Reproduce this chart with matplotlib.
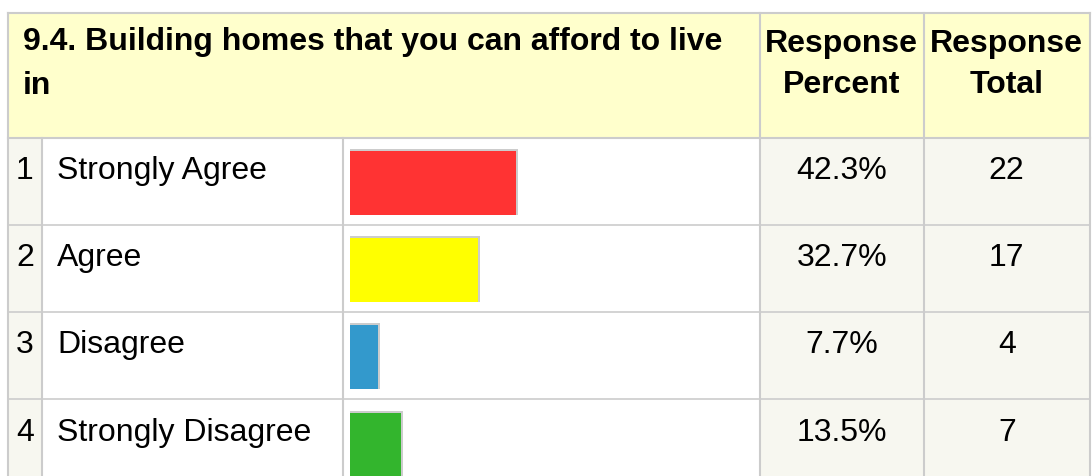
import matplotlib
matplotlib.use("Agg")
import matplotlib.pyplot as plt
from matplotlib.patches import Rectangle

# ---- data ----
title = "9.4. Building homes that you can afford to live\nin"
col_headers = ["Response\nPercent", "Response\nTotal"]
numbers = ["1", "2", "3", "4"]
categories = ["Strongly Agree", "Agree", "Disagree", "Strongly Disagree"]
percents = [42.3, 32.7, 7.7, 13.5]
totals = [22, 17, 4, 7]
bar_colors = ["#FF3333", "#FFFF00", "#3399CC", "#33B52D"]

# ---- layout (pixels) ----
W, H = 1092, 477
plt.rcParams["font.family"] = ["Liberation Sans", "DejaVu Sans"]
fig = plt.figure(figsize=(W / 100, H / 100), dpi=100)
ax = fig.add_axes([0, 0, 1, 1])
ax.set_xlim(0, W)
ax.set_ylim(H, 0)
ax.axis("off")

grid = "#CCCCCC"
header_bg = "#FFFFCC"
cell_bg = "#F7F7F0"
X0, X_NUM, X_LAB, X_PCT, X_TOT, X1 = 8, 42, 343, 759.5, 924, 1089.5
Y0, Y_HEAD = 14, 138.5
row_h = 87.2
row_tops = [Y_HEAD + i * row_h for i in range(len(categories))]
fs = 23

# header background
ax.add_patch(Rectangle((X0, Y0), X1 - X0, Y_HEAD - Y0, facecolor=header_bg, edgecolor="none", zorder=0))
# data cell backgrounds
ax.add_patch(Rectangle((X0, Y_HEAD), X_NUM - X0, H - Y_HEAD, facecolor=cell_bg, edgecolor="none", zorder=0))
ax.add_patch(Rectangle((X_PCT, Y_HEAD), X1 - X_PCT, H - Y_HEAD, facecolor=cell_bg, edgecolor="none", zorder=0))

lw = 1.5
# outer/column lines
ax.plot([X0, X1], [Y0, Y0], color=grid, lw=lw, zorder=1)
ax.plot([X0, X1], [Y_HEAD, Y_HEAD], color=grid, lw=lw, zorder=1)
for x in (X0, X_PCT, X_TOT, X1):
    ax.plot([x, x], [Y0, H], color=grid, lw=lw, zorder=1)
for x in (X_NUM, X_LAB):
    ax.plot([x, x], [Y_HEAD, H], color=grid, lw=lw, zorder=1)
for yt in row_tops[1:]:
    ax.plot([X0, X1], [yt, yt], color=grid, lw=1.2, zorder=1)

# header text
lines = title.split("\n")
ax.text(23, 50, lines[0], fontsize=fs, fontweight="bold", ha="left", va="baseline")
ax.text(23, 94, lines[1], fontsize=fs, fontweight="bold", ha="left", va="baseline")
for xc, hdr in zip([(X_PCT + X_TOT) / 2, (X_TOT + X1) / 2], col_headers):
    a, b = hdr.split("\n")
    ax.text(xc, 52, a, fontsize=fs, fontweight="bold", ha="center", va="baseline")
    ax.text(xc, 93, b, fontsize=fs, fontweight="bold", ha="center", va="baseline")

# bars
px_per_pct = 4.0
bar_left = 350
bar_h = 66
bar_off = 11.5
centers = [t + bar_off + bar_h / 2 for t in row_tops]
widths = [p * px_per_pct - 1 for p in percents]
# grey outline (top & right)
ax.barh(centers, widths, left=bar_left, height=bar_h, color=grid, zorder=2)
ax.barh([c + 1 for c in centers], [w - 2 for w in widths], left=bar_left,
        height=bar_h - 2, color=bar_colors, zorder=3)

# row text
for t, n, cat, p, tot in zip(row_tops, numbers, categories, percents, totals):
    yb = t + 40.5
    ax.text(25, yb, n, fontsize=fs, ha="center", va="baseline")
    ax.text(57, yb, cat, fontsize=fs, ha="left", va="baseline")
    ax.text((X_PCT + X_TOT) / 2, yb, f"{p:.1f}%", fontsize=fs, ha="center", va="baseline")
    ax.text((X_TOT + X1) / 2, yb, str(tot), fontsize=fs, ha="center", va="baseline")

fig.savefig("out.png", dpi=100)
